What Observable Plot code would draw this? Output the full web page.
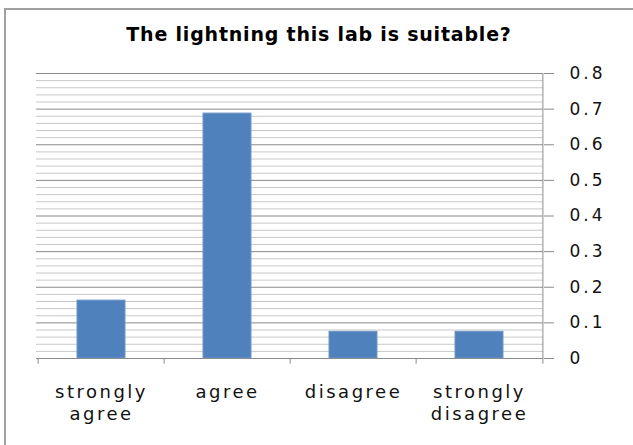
<!DOCTYPE html>
<html>
<head>
<meta charset="utf-8">
<script src="https://cdn.jsdelivr.net/npm/d3@7"></script>
<script src="https://cdn.jsdelivr.net/npm/@observablehq/plot@0.6"></script>
<style>
  html, body { margin: 0; padding: 0; background: #fff; }
  #wrap { position: relative; width: 633px; height: 445px; overflow: hidden; }
  #border { position: absolute; left: 4px; top: 8px; width: 640px; height: 450px; border: 2px solid #a0a0a0; box-sizing: border-box; }
  #chart { position: absolute; left: 0; top: 0; }
</style>
</head>
<body>
<div id="wrap"><div id="border"></div><div id="chart"></div></div>
<script>
const title = "The lightning this lab is suitable?";
const categories = ["strongly agree", "agree", "disagree", "strongly disagree"];
const categoryLabels = ["strongly\nagree", "agree", "disagree", "strongly\ndisagree"];
const values = [0.1625, 0.6875, 0.075, 0.075];
const yMajorTicks = [0, 0.1, 0.2, 0.3, 0.4, 0.5, 0.6, 0.7, 0.8];
const yMinorTicks = [0.02, 0.04, 0.06, 0.08, 0.12, 0.14, 0.16, 0.18, 0.22, 0.24, 0.26, 0.28,
  0.32, 0.34, 0.36, 0.38, 0.42, 0.44, 0.46, 0.48, 0.52, 0.54, 0.56, 0.58,
  0.62, 0.64, 0.66, 0.68, 0.72, 0.74, 0.76, 0.78];

const data = categories.map((c, i) => ({category: c, value: values[i]}));
const labelOf = new Map(categories.map((c, i) => [c, categoryLabels[i]]));

const W = 633, H = 445, mL = 36, mR = 90, mT = 73, mB = 87;
const bw = (W - mL - mR) / categories.length;
const titleShift = W / 2 - (mL + (W - mL - mR) / 2) + 2;

const chart = Plot.plot({
  width: W, height: H,
  marginLeft: mL, marginRight: mR, marginTop: mT, marginBottom: mB,
  style: {fontFamily: "DejaVu Sans", background: "transparent", color: "#111"},
  x: {domain: categories, padding: 0, label: null},
  y: {domain: [0, 0.8], label: null},
  marks: [
    Plot.ruleY(yMinorTicks, {stroke: "#c8c8c8", strokeWidth: 1}),
    Plot.ruleY(yMajorTicks, {stroke: "#8a8a8a", strokeWidth: 1}),
    Plot.barY(data, {x: "category", y: "value", fill: "#4f81bd", stroke: "#6f97c8", strokeWidth: 1, insetLeft: 39, insetRight: 39}),
    Plot.ruleY([0], {stroke: "#8a8a8a"}),
    Plot.ruleX(categories, {x: d => d, dx: -bw / 2, y1: 0, y2: -0.016, stroke: "#8a8a8a"}),
    Plot.ruleX(categories.slice(-1), {x: d => d, dx: bw / 2, y1: -0.016, y2: 0.8, stroke: "#8a8a8a"}),
    Plot.axisY({anchor: "right", ticks: yMajorTicks, tickSize: 10, tickPadding: 16, stroke: "#8a8a8a",
      tickFormat: d => d === 0 ? "0" : d.toFixed(1), fontSize: 17, label: null}),
    Plot.axisX({tickSize: 0, tickPadding: 23, tickFormat: d => labelOf.get(d), fontSize: 18,
      lineHeight: 1.26, label: null}),
    Plot.text([title], {frameAnchor: "top", dy: -46, dx: titleShift, fontSize: 19, fontWeight: "bold", fill: "#000"})
  ]
});
d3.select(chart).selectAll("g[aria-label='x-axis tick label'] text").style("letter-spacing", "2.5px");
d3.select(chart).selectAll("g[aria-label='y-axis tick label'] text").style("letter-spacing", "3px");
d3.select(chart).selectAll("g[aria-label='text'] text").style("letter-spacing", "0.8px");
document.getElementById("chart").appendChild(chart);
</script>
</body>
</html>
